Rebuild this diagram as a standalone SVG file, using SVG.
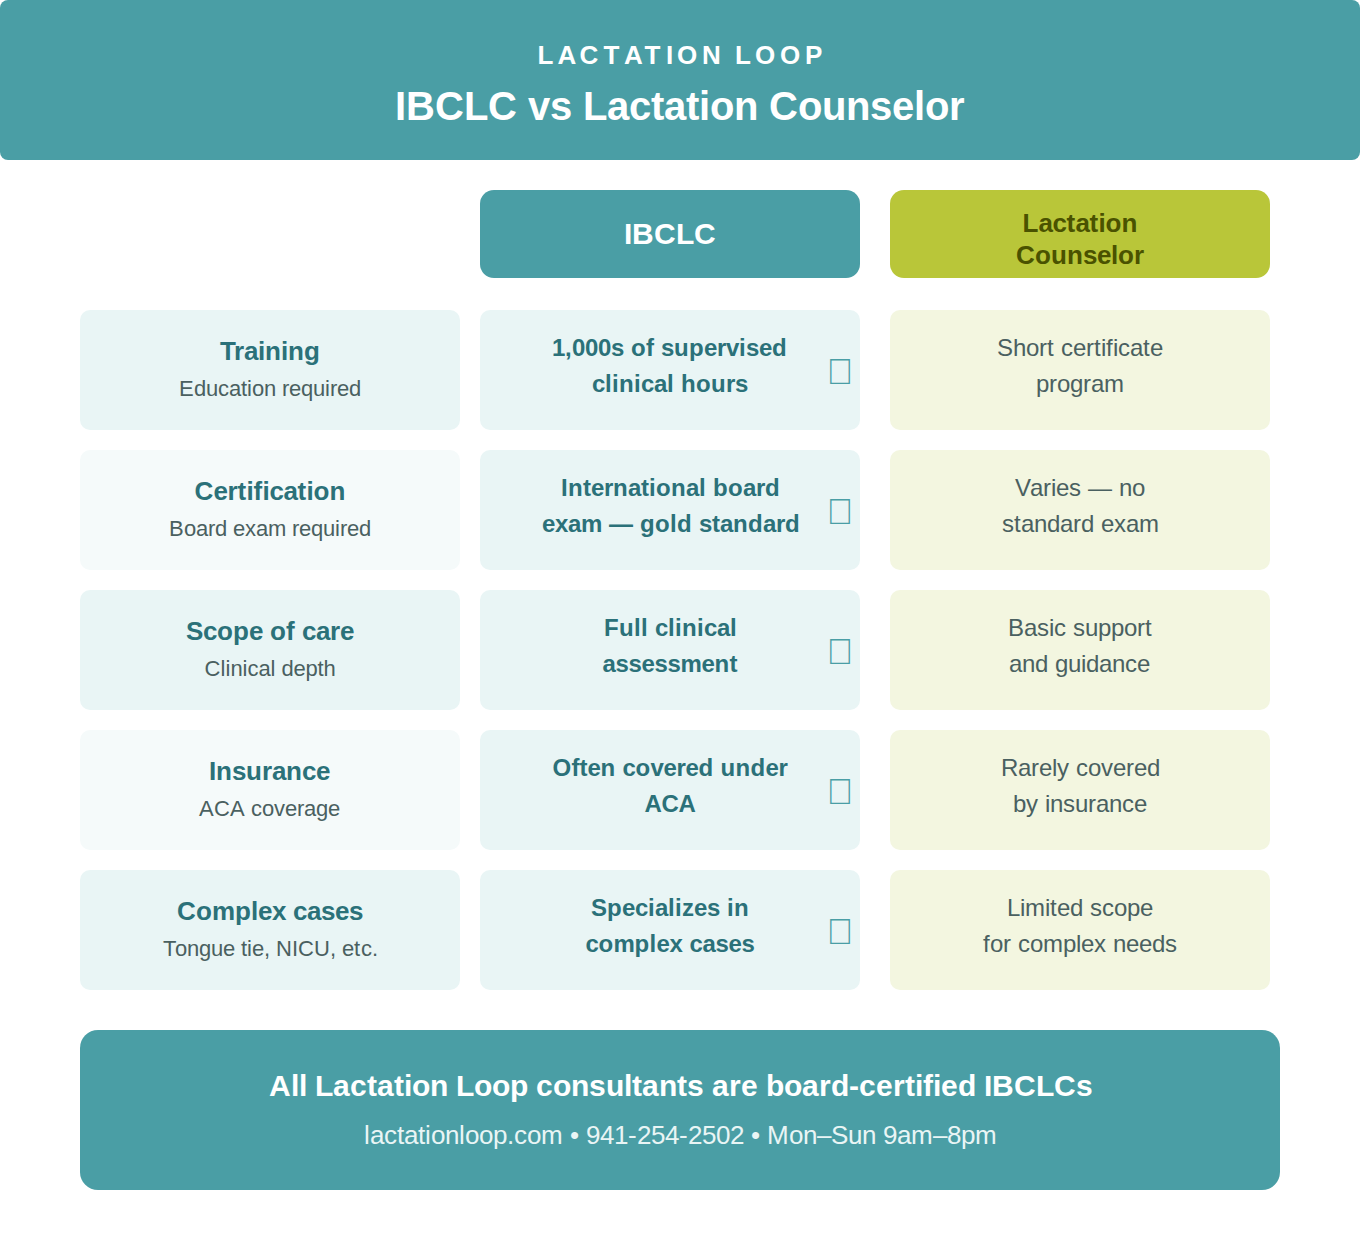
<svg xmlns="http://www.w3.org/2000/svg" width="1360" height="1240" viewBox="0 0 1360 1240">
<style>
text{font-family:"Liberation Sans",Arial,sans-serif}
.teal{fill:#4a9ea5}.l{fill:#e9f5f5}.p{fill:#f5fafa}.g{fill:#f3f6e0}
.h{font-size:26px;font-weight:700;fill:#2b7179}
.s{font-size:22px;fill:#4a6060}
.b{font-size:24px;font-weight:700;fill:#2b7179}
.c{font-size:24px;fill:#4a6060}
.m{font-size:36px;fill:#4a9ea5;text-anchor:middle}
.w{font-weight:700;fill:#fff}
.o{font-size:26px;font-weight:700;fill:#4a5200}
</style>
<g id="header"><rect class="teal" width="1360" height="160" rx="8"/>
<text class="w" font-size="26" y="64" x="537.5 557.5 579.5 603.5 624 644.5 666 677 702 727 735 755 780 805">LACTATION LOOP</text>
<text class="w" font-size="40" y="120" x="395 406 435 464 488 517 528 550 572 583 607 629 651 664 686 699 710 734 758 769 798 822 846 870 892 914 925 949">IBCLC vs Lactation Counselor</text></g>
<g id="col-ibclc"><rect class="teal" x="480" y="190" width="380" height="88" rx="14"/><text class="w" font-size="30" y="244" x="624 632 654 676 694">IBCLC</text></g>
<g id="col-counselor"><rect x="890" y="190" width="380" height="88" rx="14" fill="#b9c639"/><text class="o" y="232" x="1022.5 1038.5 1052.5 1066.5 1075.5 1089.5 1098.5 1105.5 1121.5">Lactation</text><text class="o" y="264" x="1016 1035 1051 1067 1083 1097 1111 1118 1134">Counselor</text></g>
<g id="row1-label"><rect class="l" x="80" y="310" width="380" height="120" rx="10"/><text class="h" y="360" x="220 234 244 258 265 281 288 304">Training</text><text class="s" y="396" x="179 194 206 218 229 241 247 252 264 276 282 289 301 313 325 330 337 349">Education required</text></g>
<g id="row1-ibclc"><rect class="l" x="480" y="310" width="380" height="120" rx="10"/><text class="b" y="356" x="552 565 572 585 598 611 624 631 646 654 661 674 689 704 717 726 739 746 759 772">1,000s of supervised</text><text class="b" y="392" x="592 605 612 619 634 641 654 667 674 681 696 711 726 735">clinical hours</text><text class="m" x="840" y="384">&#xE000;</text></g>
<g id="row1-counselor"><rect class="g" x="890" y="310" width="380" height="120" rx="10"/><text class="c" y="356" x="997 1013 1026 1039 1047 1054 1061 1073 1086 1094 1101 1106 1113 1118 1130 1143 1150">Short certificate</text><text class="c" y="392" x="1036 1049 1057 1070 1083 1091 1104">program</text></g>
<g id="row2-label"><rect class="p" x="80" y="450" width="380" height="120" rx="10"/><text class="h" y="500" transform="translate(.5 0)" x="194 213 227 237 246 253 262 269 283 297 306 313 329">Certification</text><text class="s" y="536" x="169 184 196 208 215 227 233 245 256 268 286 292 299 311 323 335 340 347 359">Board exam required</text></g>
<g id="row2-ibclc"><rect class="l" x="480" y="450" width="380" height="120" rx="10"/><text class="b" y="496" x="561 568 583 591 604 613 628 641 649 656 671 686 699 706 713 728 743 756 765">International board</text><text class="b" y="532" transform="translate(1 0)" x="541 554 567 580 601 608 632 639 654 669 676 691 698 711 719 732 747 762 775 784">exam — gold standard</text><text class="m" x="840" y="524">&#xE000;</text></g>
<g id="row2-counselor"><rect class="g" x="890" y="450" width="380" height="120" rx="10"/><text class="c" y="496" x="1015 1030 1043 1051 1056 1069 1081 1088 1112 1119 1132">Varies — no</text><text class="c" y="532" x="1002 1014 1021 1034 1047 1060 1073 1081 1094 1101 1114 1126 1139">standard exam</text></g>
<g id="row3-label"><rect class="l" x="80" y="590" width="380" height="120" rx="10"/><text class="h" y="640" x="186 203 217 233 249 263 270 286 295 302 316 330 340">Scope of care</text><text class="s" y="676" transform="translate(-.5 0)" x="205 221 226 231 243 248 259 271 276 282 294 306 318 324">Clinical depth</text></g>
<g id="row3-ibclc"><rect class="l" x="480" y="590" width="380" height="120" rx="10"/><text class="b" y="636" x="604 619 634 641 648 655 668 675 682 697 704 717 730">Full clinical</text><text class="b" y="672" transform="translate(-.5 0)" x="603 616 629 642 655 668 681 702 715 730">assessment</text><text class="m" x="840" y="664">&#xE000;</text></g>
<g id="row3-counselor"><rect class="g" x="890" y="590" width="380" height="120" rx="10"/><text class="c" y="636" x="1008 1024 1037 1049 1054 1066 1073 1085 1098 1111 1124 1137 1145">Basic support</text><text class="c" y="672" x="1009 1022 1035 1048 1055 1068 1081 1086 1099 1112 1125 1137">and guidance</text></g>
<g id="row4-label"><rect class="p" x="80" y="730" width="380" height="120" rx="10"/><text class="h" y="780" x="209 216 232 246 262 272 286 302 316">Insurance</text><text class="s" y="816" transform="translate(-1 0)" x="200 215 231 246 252 263 275 286 298 305 317 329">ACA coverage</text></g>
<g id="row4-ibclc"><rect class="l" x="480" y="730" width="380" height="120" rx="10"/><text class="b" y="776" transform="translate(-.5 0)" x="553 572 580 588 601 616 623 636 651 664 677 686 699 714 721 736 751 766 779">Often covered under</text><text class="b" y="812" transform="translate(-.5 0)" x="645 662 679">ACA</text><text class="m" x="840" y="804">&#xE000;</text></g>
<g id="row4-counselor"><rect class="g" x="890" y="730" width="380" height="120" rx="10"/><text class="c" y="776" transform="translate(1 0)" x="1000 1017 1030 1038 1051 1056 1068 1075 1087 1100 1112 1125 1133 1146">Rarely covered</text><text class="c" y="812" x="1013 1026 1038 1045 1050 1063 1075 1088 1096 1109 1122 1134">by insurance</text></g>
<g id="row5-label"><rect class="l" x="80" y="870" width="380" height="120" rx="10"/><text class="h" y="920" x="177 196 212 235 251 258 272 286 293 307 321 335 349">Complex cases</text><text class="s" y="956" x="163 175 187 199 211 223 235 241 247 252 264 270 276 292 298 314 330 336 342 354 361 372">Tongue tie, NICU, etc.</text></g>
<g id="row5-ibclc"><rect class="l" x="480" y="870" width="380" height="120" rx="10"/><text class="b" y="916" x="591 607 622 635 648 655 668 675 682 694 707 720 727 734">Specializes in</text><text class="b" y="952" transform="translate(-.5 0)" x="586 599 614 635 650 657 670 683 690 703 716 729 742">complex cases</text><text class="m" x="840" y="944">&#xE000;</text></g>
<g id="row5-counselor"><rect class="g" x="890" y="870" width="380" height="120" rx="10"/><text class="c" y="916" x="1007 1020 1025 1045 1050 1057 1070 1083 1090 1102 1114 1127 1140">Limited scope</text><text class="c" y="952" x="983 990 1003 1011 1018 1030 1043 1063 1076 1081 1094 1106 1113 1126 1139 1152 1165">for complex needs</text></g>
<g id="footer"><rect class="teal" x="80" y="1030" width="1200" height="160" rx="18"/><text class="w" font-size="30" y="1096" transform="translate(1 0)" x="268 290 298 306 314 332 349 366 376 393 403 411 429 447 455 473 491 509 527 535 552 570 588 605 623 631 641 658 676 686 703 711 728 740 757 765 783 801 818 830 848 858 875 892 904 914 922 932 940 957 975 983 991 1013 1035 1053 1075">All Lactation Loop consultants are board-certified IBCLCs</text><text font-size="26" fill="#e9f5f5" y="1144" transform="translate(1 0)" x="363 369 383 396 403 417 424 430 444 458 464 478 492 506 513 526 540 562 569 578 585 599 613 627 636 650 664 678 687 701 715 729 743 750 759 766 788 802 816 830 847 861 875 882 896 910 932 946 960 974">lactationloop.com • 941-254-2502 • Mon–Sun 9am–8pm</text></g>
<g id="connectors"/>
</svg>
